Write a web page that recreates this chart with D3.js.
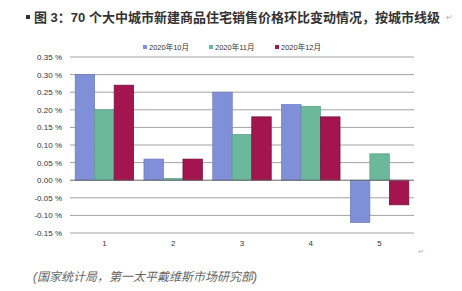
<!DOCTYPE html>
<html>
<head>
<meta charset="utf-8">
<script src="https://cdn.jsdelivr.net/npm/d3@7"></script>
<style>
  body { margin: 0; background: #fff; }
  text { font-family: "Liberation Sans", "Noto Sans CJK SC", sans-serif; }
</style>
</head>
<body>
<svg width="462" height="291"></svg>
<script>
// 城市线级 and month-on-month change (%)
const categories = ["1", "2", "3", "4", "5"];
const seriesNames = ["2020年10月", "2020年11月", "2020年12月"];
const oct = [0.30, 0.06, 0.25, 0.215, -0.12];
const nov = [0.20, 0.005, 0.13, 0.21, 0.075];
const dec = [0.27, 0.06, 0.18, 0.18, -0.07];
const yTicks = [-0.15, -0.10, -0.05, 0, 0.05, 0.10, 0.15, 0.20, 0.25, 0.30, 0.35];

const colors = ["#8090d8", "#6cb89c", "#a3154f"];
const strokes = ["#6a78bb", "#5aa086", "#6e0f38"];

const svg = d3.select("svg");
const x0 = [70, 414], yR = [233, 57];

const x = d3.scaleBand().domain(categories).range(x0).paddingInner(0.15).paddingOuter(0.075);
const x1 = d3.scaleBand().domain(seriesNames).range([0, x.bandwidth()]);
const y = d3.scaleLinear().domain([-0.15, 0.35]).range(yR);

// Title
svg.append("rect").attr("x", 26).attr("y", 15).attr("width", 4).attr("height", 4).attr("fill", "#333");
svg.append("text")
  .attr("x", 34).attr("y", 22)
  .attr("font-size", 13).attr("font-weight", "bold").attr("fill", "#333")
  .attr("font-family", "'Noto Sans CJK SC', sans-serif")
  .text("图 3：70 个大中城市新建商品住宅销售价格环比变动情况，按城市线级");
svg.append("text").attr("x", 446).attr("y", 20).attr("font-size", 8).attr("fill", "#aaa").text("↵");

// gridlines
svg.append("g").selectAll("line").data(yTicks.filter(d => d !== 0)).join("line")
  .attr("x1", x0[0]).attr("x2", x0[1])
  .attr("y1", d => y(d)).attr("y2", d => y(d))
  .attr("stroke", "#8a8a8a").attr("stroke-width", 0.8);

// y labels
svg.append("g").selectAll("text").data(yTicks).join("text")
  .attr("x", 62).attr("y", d => y(d) + 3)
  .attr("text-anchor", "end").attr("font-size", 8).attr("fill", "#333")
  .text(d => d.toFixed(2) + " %");

// bars
const values = [oct, nov, dec];
const rows = [];
categories.forEach((c, i) => values.forEach((v, s) => rows.push({ c, s, v: v[i] })));

svg.append("g").selectAll("rect").data(rows).join("rect")
  .attr("x", d => x(d.c) + x1(seriesNames[d.s]))
  .attr("width", x1.bandwidth())
  .attr("y", d => y(Math.max(0, d.v)))
  .attr("height", d => Math.abs(y(d.v) - y(0)))
  .attr("fill", d => colors[d.s])
  .attr("stroke", d => strokes[d.s]).attr("stroke-width", 0.7);

// zero line
svg.append("line").attr("x1", x0[0]).attr("x2", x0[1])
  .attr("y1", y(0)).attr("y2", y(0)).attr("stroke", "#666").attr("stroke-width", 1);

// x labels
svg.append("g").selectAll("text").data(categories).join("text")
  .attr("x", d => x(d) + x.bandwidth() / 2).attr("y", 246)
  .attr("text-anchor", "middle").attr("font-size", 8).attr("fill", "#333")
  .text(d => d);

// legend
const legend = svg.append("g").selectAll("g").data(seriesNames).join("g")
  .attr("transform", (d, i) => `translate(${143 + i * 66},47)`);
legend.append("rect").attr("x", 0).attr("y", -2).attr("width", 4).attr("height", 4)
  .attr("fill", (d, i) => colors[i]);
legend.append("text").attr("x", 6).attr("y", 3).attr("font-size", 7.5).attr("fill", "#333")
  .text(d => d);

svg.append("text").attr("x", 418).attr("y", 254).attr("font-size", 7).attr("fill", "#aaa").text("↵");

// source
svg.append("text")
  .attr("x", 33).attr("y", 281)
  .attr("font-size", 12).attr("font-style", "italic").attr("fill", "#666")
  .attr("font-family", "'Noto Sans CJK SC', sans-serif")
  .text("(国家统计局，第一太平戴维斯市场研究部)");
</script>
</body>
</html>
